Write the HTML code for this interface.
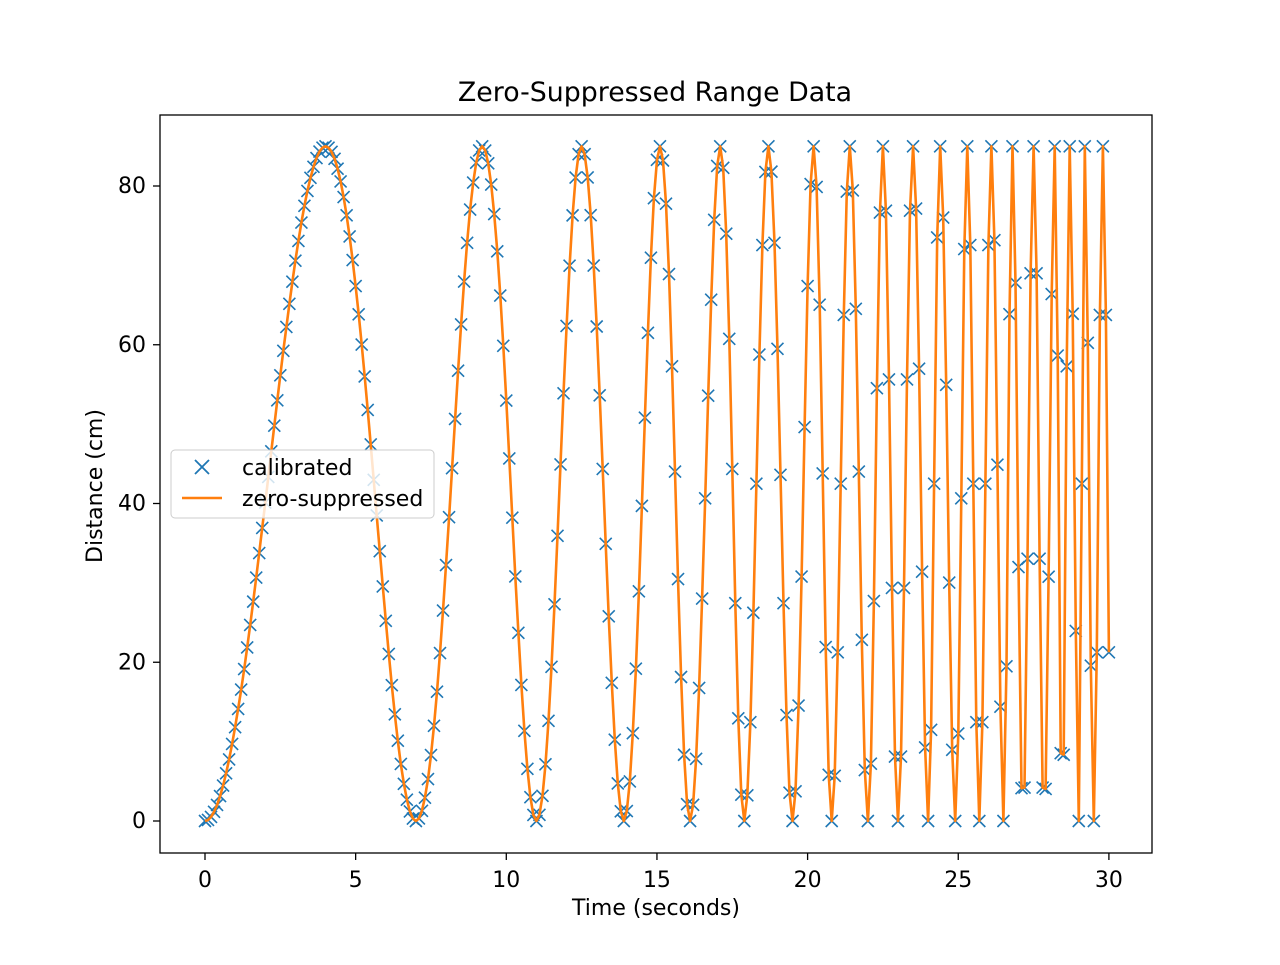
<!DOCTYPE html>
<html><head><meta charset="utf-8"><style>
html,body{margin:0;padding:0;background:#fff;}
svg text{font-family:"DejaVu Sans","Liberation Sans",sans-serif;fill:#000;}
</style></head><body>
<svg id="s" width="1280" height="960" xmlns="http://www.w3.org/2000/svg">
<rect width="1280" height="960" fill="#fff"/>
<g id="data"></g>
<rect x="160" y="115" width="992" height="738" fill="none" stroke="#000" stroke-width="1.3"/>
<g id="ticks" font-size="22"></g>
<text x="655" y="101" font-size="26.8" text-anchor="middle">Zero-Suppressed Range Data</text>
<text x="656" y="915" font-size="22" text-anchor="middle">Time (seconds)</text>
<text x="102" y="486" font-size="22" text-anchor="middle" transform="rotate(-90 102 486)">Distance (cm)</text>
<g>
<rect x="171" y="450" width="263" height="68" rx="4" fill="#fff" fill-opacity="0.8" stroke="#ccc"/>
<path d="M195,460 l14,14 M209,460 l-14,14" stroke="#1f77b4" stroke-width="1.8"/>
<text x="242" y="475" font-size="22">calibrated</text>
<line x1="182" y1="498" x2="222" y2="498" stroke="#ff7f0e" stroke-width="2.6"/>
<text x="242" y="506" font-size="22">zero-suppressed</text>
</g>
</svg>
<script>
var K=[0,4.0,7.0,9.2,11.0,12.5,13.9,15.1,16.1,17.1,17.9,18.7,19.5,20.2,20.8,21.4,22.0,22.5,23.0,23.5,24.0,24.4,24.9,25.3,25.7,26.1,26.5,26.8,27.15,27.5,27.85,28.2,28.45,28.7,29.0,29.2,29.5,29.8,30.1];
var n=K.length,M=[];
for(var j=0;j<n;j++){var a=j>0?1/(K[j]-K[j-1]):null,b=j<n-1?1/(K[j+1]-K[j]):null;M[j]=(a&&b)?2/(1/a+1/b)*1:(a||b);}
function ph(t){for(var j=0;j<n-1;j++){if(t<=K[j+1]){var h=K[j+1]-K[j],s=(t-K[j])/h,s2=s*s,s3=s2*s;
var v=(2*s3-3*s2+1)*j+(s3-2*s2+s)*h*M[j]+(-2*s3+3*s2)*(j+1)+(s3-s2)*h*M[j+1];return Math.PI*v;}}return Math.PI*(n-1);}
function Y(t){return 42.5*(1-Math.cos(ph(t)));}
function px(t){return 205+t*30.13;}
function py(v){return 821-v*7.9375;}
var g=document.getElementById('data'),h='',d='';
for(var i=0;i<=300;i++){var t=i*0.1;var x=px(t),y=py(Y(t));h+='<path d="M'+(x-6)+','+(y-6)+'l12,12M'+(x+6)+','+(y-6)+'l-12,12" stroke="#1f77b4" stroke-width="1.6"/>';d+=(i?'L':'M')+x.toFixed(1)+','+y.toFixed(1);}
h+='<path d="'+d+'" fill="none" stroke="#ff7f0e" stroke-width="2.6" stroke-linejoin="round"/>';
g.innerHTML=h;
var tk='';
for(var v=0;v<=30;v+=5){var x=px(v);tk+='<line x1="'+x+'" y1="853" x2="'+x+'" y2="860" stroke="#000" stroke-width="1.3"/><text x="'+x+'" y="887" text-anchor="middle">'+v+'</text>';}
for(var v=0;v<=80;v+=20){var y=py(v);tk+='<line x1="153" y1="'+y+'" x2="160" y2="'+y+'" stroke="#000" stroke-width="1.3"/><text x="146" y="'+(y+7)+'" text-anchor="end">'+v+'</text>';}
document.getElementById('ticks').innerHTML=tk;
</script>
</body></html>
